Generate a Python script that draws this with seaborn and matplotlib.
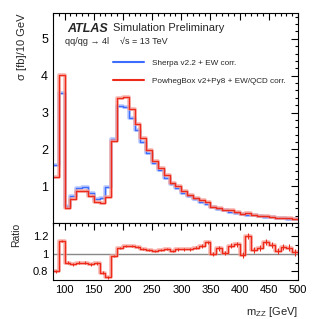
import numpy as np
import pandas as pd
import matplotlib
matplotlib.use("Agg")
import matplotlib.pyplot as plt
from matplotlib.ticker import MultipleLocator
from matplotlib.lines import Line2D
import seaborn as sns

# ---------------- data ----------------
bin_edges = list(range(80, 510, 10))
sherpa = [1.57, 3.52, 0.46, 0.73, 0.96, 0.98, 0.82, 0.66, 0.69, 0.97,
          2.28, 3.19, 3.16, 2.85, 2.53, 2.19, 1.90, 1.63, 1.45, 1.23,
          1.06, 0.96, 0.82, 0.72, 0.64, 0.57, 0.51, 0.43, 0.39, 0.35,
          0.31, 0.28, 0.25, 0.22, 0.21, 0.19, 0.17, 0.155, 0.14, 0.13,
          0.12, 0.11]
powheg = [1.25, 4.03, 0.42, 0.64, 0.86, 0.88, 0.73, 0.58, 0.53, 0.71,
          2.22, 3.40, 3.43, 3.09, 2.70, 2.31, 1.97, 1.68, 1.48, 1.29,
          1.09, 1.00, 0.86, 0.76, 0.68, 0.62, 0.575, 0.43, 0.41, 0.355,
          0.34, 0.31, 0.245, 0.265, 0.22, 0.20, 0.193, 0.17, 0.145, 0.14,
          0.128, 0.112]
ratio = [0.80, 1.143, 0.90, 0.88, 0.90, 0.90, 0.88, 0.89, 0.785, 0.73,
         0.97, 1.068, 1.09, 1.09, 1.075, 1.053, 1.04, 1.03, 1.04, 1.053,
         1.03, 1.05, 1.05, 1.05, 1.07, 1.09, 1.128, 1.00, 1.06, 1.01,
         1.09, 1.11, 0.985, 1.20, 1.04, 1.06, 1.135, 1.10, 1.03, 1.075,
         1.07, 1.015]
ratio_err = [0.015, 0.012, 0.015, 0.015, 0.015, 0.015, 0.015, 0.017, 0.02, 0.02,
             0.012, 0.01, 0.01, 0.01, 0.01, 0.012, 0.012, 0.012, 0.014, 0.014,
             0.015, 0.015, 0.016, 0.017, 0.018, 0.02, 0.022, 0.022, 0.024, 0.025,
             0.027, 0.028, 0.03, 0.032, 0.032, 0.034, 0.035, 0.036, 0.037, 0.038,
             0.04, 0.04]
xticks = [100, 150, 200, 250, 300, 350, 400, 450, 500]

centers = [(a + b) / 2 for a, b in zip(bin_edges[:-1], bin_edges[1:])]
df = pd.DataFrame({"m": centers, "sherpa": sherpa, "powheg": powheg,
                   "ratio": ratio, "rerr": ratio_err})

# ---------------- style ----------------
sns.set_style("white")
plt.rcParams["font.family"] = ["Liberation Sans", "DejaVu Sans"]
plt.rcParams["mathtext.fontset"] = "custom"
plt.rcParams["mathtext.rm"] = "Liberation Sans"
plt.rcParams["mathtext.it"] = "Liberation Sans"

BLUE = "#3d6cff"
BLUE_L = "#a9bdff"
RED = "#ee2a1a"
RED_L = "#f6a59c"

fig = plt.figure(figsize=(3.32, 3.19), dpi=100)
ax = fig.add_axes([0.1596, 0.301, 0.738, 0.658])
axr = fig.add_axes([0.1596, 0.122, 0.738, 0.179], sharex=ax)

def steps(axis, col, color, light):
    sns.histplot(data=df, x="m", weights=col, bins=bin_edges, element="step",
                 fill=False, color=light, linewidth=2.6, alpha=0.8, ax=axis)
    sns.histplot(data=df, x="m", weights=col, bins=bin_edges, element="step",
                 fill=False, color=color, linewidth=1.0, ax=axis)

steps(ax, "sherpa", BLUE, BLUE_L)
steps(ax, "powheg", RED, RED_L)

ax.set_xlim(80, 500)
ax.set_ylim(0, 5.7)
ax.yaxis.set_major_locator(MultipleLocator(1))
ax.yaxis.set_minor_locator(MultipleLocator(0.2))
ax.set_yticks([1, 2, 3, 4, 5])
ax.set_xlabel("")
ax.set_ylabel(r"σ [fb]/10 GeV", fontsize=8, loc="top", labelpad=10)
plt.setp(ax.get_xticklabels(), visible=False)

# ratio panel
axr.axhline(1.0, color="#888888", linewidth=1.0, zorder=1)
sns.histplot(data=df, x="m", weights="ratio", bins=bin_edges, element="step",
             fill=False, color=RED_L, linewidth=2.6, alpha=0.8, ax=axr)
sns.histplot(data=df, x="m", weights="ratio", bins=bin_edges, element="step",
             fill=False, color=RED, linewidth=1.0, ax=axr)
axr.errorbar(df["m"], df["ratio"], yerr=df["rerr"], fmt="none",
             ecolor=RED, elinewidth=0.8)
axr.set_ylim(0.7, 1.35)
axr.yaxis.set_major_locator(MultipleLocator(0.2))
axr.yaxis.set_minor_locator(MultipleLocator(0.1))
axr.set_yticks([0.8, 1.0, 1.2])
axr.set_yticklabels(["0.8", "1", "1.2"])
axr.set_xticks(xticks)
axr.xaxis.set_minor_locator(MultipleLocator(10))
axr.set_xlim(80, 500)
axr.set_ylabel("Ratio", fontsize=7.5, loc="top", labelpad=8)
axr.set_xlabel(r"m$_{\mathregular{ZZ}}$ [GeV]", fontsize=8, loc="right", labelpad=7)

for a in (ax, axr):
    a.tick_params(which="both", direction="in", top=True, right=True,
                  labelsize=8, width=0.8, colors="black")
    a.tick_params(which="major", length=5)
    a.tick_params(which="minor", length=2.5)
    for s in a.spines.values():
        s.set_linewidth(0.8)
        s.set_color("black")
ax.tick_params(axis="y", labelsize=9)

# texts
ax.text(0.06, 0.955, "ATLAS", transform=ax.transAxes, fontsize=9,
        fontweight="bold", fontstyle="italic", va="top")
ax.text(0.245, 0.952, "Simulation Preliminary", transform=ax.transAxes,
        fontsize=8.0, va="top")
ax.text(0.048, 0.885, "qq/qg → 4l", transform=ax.transAxes, fontsize=6.5, va="top")
ax.text(0.275, 0.885, "√s = 13 TeV", transform=ax.transAxes,
        fontsize=6.5, va="top")

handles = [Line2D([], [], color=BLUE, lw=1.5), Line2D([], [], color=RED, lw=1.5)]
ax.legend(handles, ["Sherpa v2.2 + EW corr.", "PowhegBox v2+Py8 + EW/QCD corr."],
          loc="upper left", bbox_to_anchor=(0.215, 0.815), frameon=False,
          fontsize=5.9, handlelength=3.8, labelspacing=1.2, handletextpad=0.9)

fig.savefig("out.png", dpi=100)
